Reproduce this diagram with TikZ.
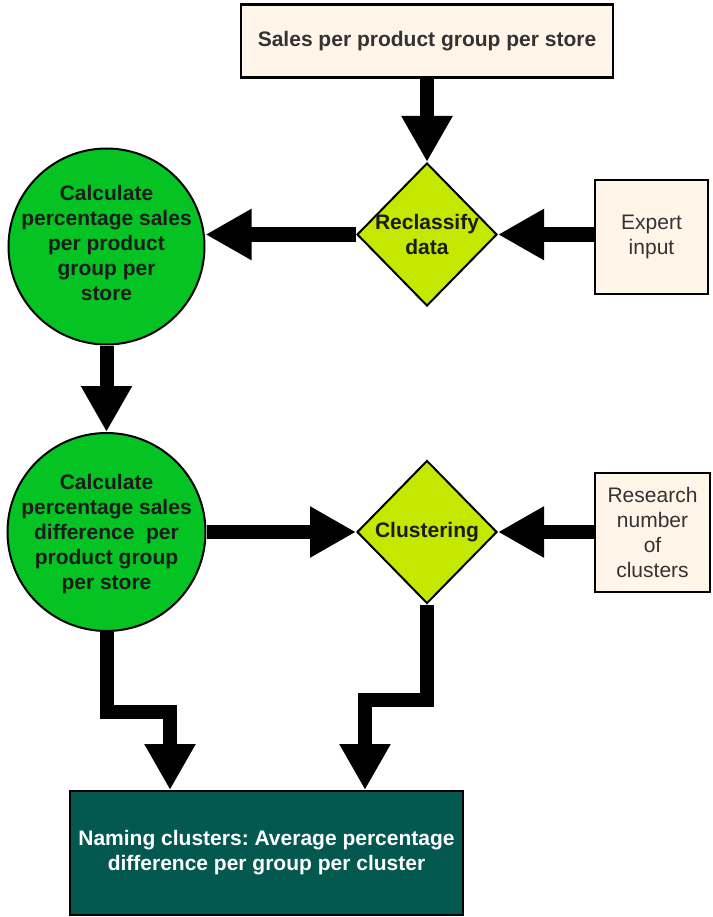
\documentclass[tikz,border=0pt]{standalone}
\usepackage{fontspec}
\setmainfont{Liberation Sans}
\usetikzlibrary{arrows.meta,shapes.geometric}

\definecolor{cream}{HTML}{FFF5E8}
\definecolor{leaf}{HTML}{05C322}
\definecolor{lime}{HTML}{C5E800}
\definecolor{darkteal}{HTML}{03584F}
\definecolor{ink}{HTML}{1C1C1C}

\begin{document}
\begin{tikzpicture}[x=1pt,y=-1pt,
  basefont/.style={font=\fontsize{21}{25}\selectfont},
  boldfont/.style={font=\fontsize{21}{25}\selectfont\bfseries},
  inbox/.style={draw=black, line width=2.5pt, fill=cream, text=black!80,
    align=center, inner sep=0pt, basefont},
  decision/.style={diamond, draw=black, line width=2pt, fill=lime,
    minimum width=140pt, minimum height=143pt, inner sep=0pt},
  proc/.style={circle, draw=black, line width=2pt, fill=leaf, inner sep=0pt},
  lbl/.style={align=center, text=ink, boldfont, inner sep=0pt},
  result/.style={draw=black, line width=2pt, fill=darkteal, text=white,
    align=center, boldfont, inner sep=0pt},
  arr/.style={line width=14pt, line join=miter,
    -{Triangle[width=48pt,length=46pt]}}
]
\useasboundingbox (0,0) rectangle (712,917);

% inputs
\node[inbox, boldfont, minimum width=372pt, minimum height=73pt] (src) at (427,41)
  {Sales per product group per store};
\node[inbox, minimum width=113pt, minimum height=114pt] (expert) at (651.5,237)
  {Expert\\input};
\node[inbox, minimum width=115pt, minimum height=119pt] (research) at (652.5,532.5)
  {Research\\number\\of\\clusters};

% decisions
\node[decision, label={[lbl]center:{Reclassify\\data}}] (d1) at (427,234.5) {};
\node[decision, label={[lbl]center:{Clustering}}] (d2) at (427,532) {};

% processing steps
\node[proc, minimum size=196pt,
  label={[lbl, yshift=4pt]center:{Calculate\\percentage sales\\per product\\group per\\store}}]
  (c1) at (106.5,246.5) {};
\node[proc, minimum size=198pt,
  label={[lbl, yshift=-2pt]center:{Calculate\\percentage sales\\difference\ \ per\\product group\\per store}}]
  (c2) at (106.5,532) {};

% result
\node[result, minimum width=393pt, minimum height=124pt] (names) at (266.5,853)
  {Naming clusters:\ Average percentage\\difference per group per cluster};

% flow
\draw[arr] (src.south) -- (d1.north);
\draw[arr] (expert.west |- d1.east) -- (d1.east);
\draw[arr] (d1.west) -- (d1.west -| c1.east);
\draw[arr] (c1.south) -- (c2.north);
\draw[arr] (c2.east) -- (d2.west);
\draw[arr] (research.west |- d2.east) -- (d2.east);

\coordinate (bendL) at (170,712);
\coordinate (bendR) at (365,700);
\draw[arr] (c2.south) |- (bendL) -- (bendL |- names.north);
\draw[arr] (d2.south) |- (bendR) -- (bendR |- names.north);
\end{tikzpicture}
\end{document}
